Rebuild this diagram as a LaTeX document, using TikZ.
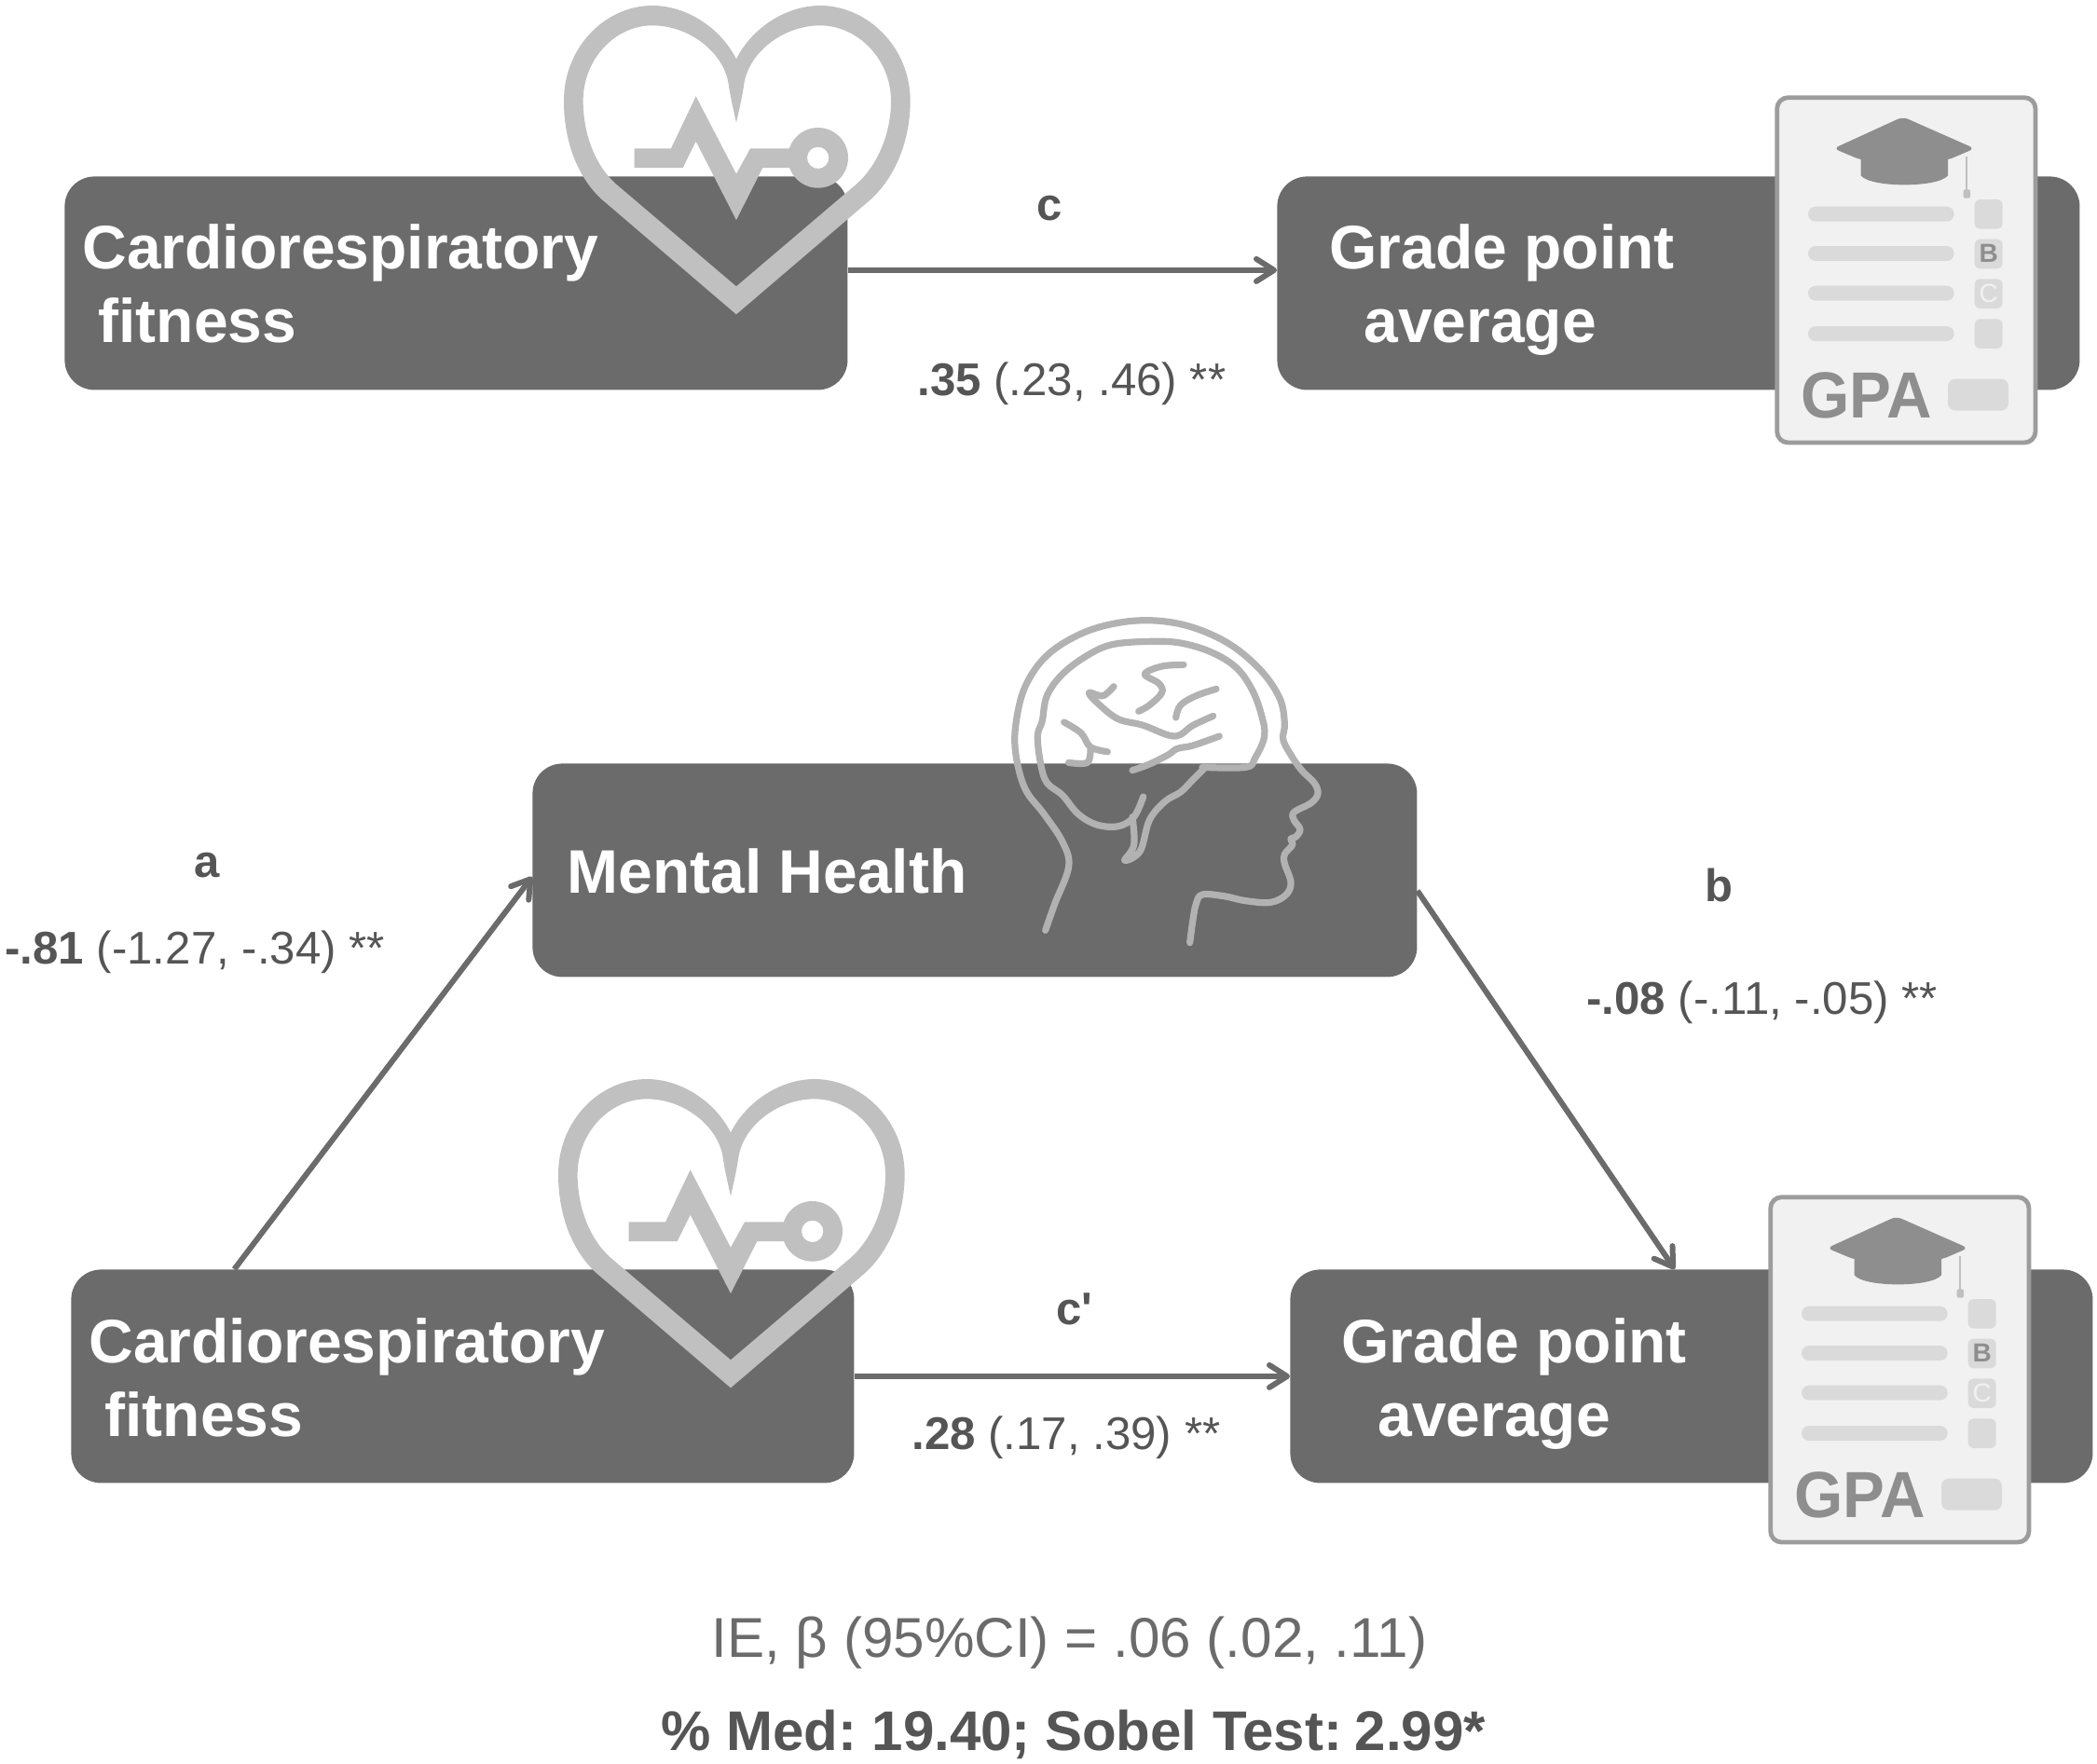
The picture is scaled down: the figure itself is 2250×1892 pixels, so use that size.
\documentclass[tikz,border=0pt]{standalone}
\usepackage{fontspec}
\setmainfont{Liberation Sans}
\newfontfamily\plainsans{Liberation Sans}
\usetikzlibrary{arrows.meta}
\definecolor{boxc}{HTML}{6B6B6B}
\definecolor{iconc}{HTML}{C0C0C0}
\definecolor{brainc}{HTML}{B2B2B2}
\definecolor{labc}{HTML}{555555}
\definecolor{capc}{HTML}{8E8E8E}
\definecolor{barc}{HTML}{DADADA}
\definecolor{cardc}{HTML}{F1F1F1}
\definecolor{edgec}{HTML}{9C9C9C}
\tikzset{
 boxnode/.style={fill=boxc,rounded corners=16pt,anchor=north west,inner sep=0pt,minimum height=114.5pt},
 boxtext/.style={anchor=base west,inner sep=0pt,text=white,font=\fontsize{33}{36}\selectfont\bfseries},
 letter/.style={anchor=base,inner sep=0pt,text=labc,font=\fontsize{24.5}{28}\selectfont\bfseries},
 coef/.style={anchor=base west,inner sep=0pt,text=labc,font=\fontsize{24.6}{28}\selectfont},
 conn/.style={draw=boxc,line width=3pt,-{Straight Barb[length=9.5pt,width=12pt,line width=3pt,round]}},
 brainline/.style={draw=brainc,line width=3.6pt,line cap=round,line join=round},
}
\newcommand{\heartbeat}[2]{%
\begin{scope}[shift={(#1,#2)},x=0.16667pt,y=-0.16667pt]
 \fill[iconc,even odd rule]
  (690,1012) -- (255,640) .. controls (170,560) and (135,440) .. (135,325)
  .. controls (135,150) and (270,18) .. (420,18)
  .. controls (530,18) and (640,90) .. (690,190)
  .. controls (740,90) and (850,18) .. (960,18)
  .. controls (1110,18) and (1250,150) .. (1250,325)
  .. controls (1250,440) and (1210,560) .. (1125,640) -- cycle
  (690,922) -- (300,590) .. controls (235,530) and (197,430) .. (197,325)
  .. controls (197,190) and (300,82) .. (420,82)
  .. controls (540,82) and (650,170) .. (665,270)
  .. controls (672,320) and (685,370) .. (690,395)
  .. controls (695,370) and (708,320) .. (715,270)
  .. controls (730,170) and (840,82) .. (960,82)
  .. controls (1080,82) and (1188,190) .. (1188,325)
  .. controls (1188,430) and (1145,530) .. (1080,590) -- cycle;
 \fill[iconc] (362,478) -- (480,478) -- (560,310) -- (690,560) -- (735,478) -- (880,478)
  -- (880,540) -- (775,540) -- (690,708) -- (560,455) -- (518,540) -- (362,540) -- cycle;
 \fill[iconc,even odd rule] (953,508) circle[radius=97] (953,508) circle[radius=35];
\end{scope}}
\newcommand{\gpacard}[2]{%
\begin{scope}[shift={(#1,#2)},x=0.16667pt,y=-0.16667pt]
 \draw[draw=edgec,fill=cardc,line width=2.4pt,rounded corners=6pt] (80,44) rectangle (912,1155);
 \fill[capc,rounded corners=3pt] (485,106) -- (716,208) -- (630,245) -- (350,245) -- (262,208) -- cycle;
 \fill[capc] (350,235) -- (630,235) -- (630,295) .. controls (600,335) and (380,335) .. (350,295) -- cycle;
 \draw[iconc,line width=1.4pt] (690,235) -- (690,345);
 \fill[iconc,rounded corners=1pt] (680,340) rectangle (702,368);
 \foreach \yy in {395,522,650,780} \fill[barc,rounded corners=4pt] (180,\yy) rectangle (650,\yy+48);
 \foreach \yy in {372,500,628,757} \fill[barc,rounded corners=3pt] (716,\yy) rectangle (806,\yy+95);
 \node[anchor=base,inner sep=0pt,text=capc,font=\fontsize{14}{16}\selectfont\bfseries] at (761,575) {B};
 \node[anchor=base,inner sep=0pt,text=cardc,font=\fontsize{14}{16}\selectfont] at (761,703) {C};
 \node[anchor=base west,inner sep=0pt,text=capc,font=\fontsize{35}{38}\selectfont\bfseries,xscale=.96] at (155,1075) {GPA};
 \fill[barc,rounded corners=4pt] (630,950) rectangle (825,1052);
\end{scope}}
\newcommand{\brainhead}[2]{%
\begin{scope}[shift={(#1,#2)},x=0.16667pt,y=-0.16667pt,brainline]
 \draw plot[smooth,tension=.6] coordinates {(185,1045)(215,960)(260,840)(240,760)(180,670)(120,590)(90,480)(90,380)(120,260)(190,160)(300,90)(420,55)(540,48)(660,70)(780,125)(880,210)(940,300)(955,380)(950,430)(975,480)(1010,530)(1050,570)(1062,605)(1040,635)(985,665)(985,690)(1005,720)(990,745)(975,750)(980,770)(955,800)(955,830)(975,890)(960,930)(910,955)(830,950)(760,935)(690,930)(670,960)(660,1010)(650,1085)};
 \draw plot[smooth,tension=.6] coordinates {(690,520)(830,520)(860,490)(890,420)(880,350)(850,270)(800,200)(720,150)(620,120)(520,115)(400,125)(320,160)(240,220)(190,290)(175,370)(160,420)(170,510)(190,570)(240,610)(290,670)(350,705)(420,710)(470,680)(500,615)};
 \draw plot[smooth,tension=.6] coordinates {(465,680)(470,770)(440,820)(490,790)(520,690)(570,630)(620,600)(660,560)(700,520)};
 \draw plot[smooth,tension=.6] coordinates {(405,260)(370,290)(325,280)(360,320)(420,365)(500,385)(600,420)(660,385)(725,355)};
 \draw plot[smooth,tension=.6] coordinates {(630,190)(560,195)(505,220)(550,250)(560,280)(520,320)(485,340)};
 \draw plot[smooth,tension=.6] coordinates {(605,360)(620,320)(670,290)(735,268)};
 \draw plot[smooth,tension=.6] coordinates {(245,375)(300,410)(330,455)(385,470)};
 \draw plot[smooth,tension=.6] coordinates {(330,460)(320,505)(260,505)};
 \draw plot[smooth,tension=.6] coordinates {(465,530)(520,510)(580,480)(610,460)(660,450)(745,420)};
\end{scope}}
\begin{document}
\begin{tikzpicture}[x=0.5pt,y=-0.5pt]
\useasboundingbox (0,0) rectangle (2250,1892);
% boxes
\node[boxnode,minimum width=420pt] (crfA) at (69,189) {};
\node[boxnode,minimum width=430.5pt] (gpaA) at (1370,189) {};
\node[boxnode,minimum width=474.5pt] (mh) at (571,819) {};
\node[boxnode,minimum width=420pt] (crfB) at (76,1362) {};
\node[boxnode,minimum width=430.5pt] (gpaB) at (1384,1362) {};
% connectors
\draw[conn] ([yshift=7pt]crfA.east) -- ([yshift=7pt]gpaA.west);
\draw[conn] ([xshift=-122.5pt]crfB.north) -- ([yshift=-3.5pt]mh.west);
\draw[conn] ([yshift=-11pt]mh.east) -- ([xshift=-9pt]gpaB.north);
\draw[conn] (crfB.east) -- (gpaB.west);
% box text
\node[boxtext] (t1) at (88,288) {Cardiorespiratory};
\node[boxtext] (t2) at (105,367) {fitness};
\node[boxtext] (t3) at (1426,288) {Grade point};
\node[boxtext] (t4) at (1463,367) {average};
\node[boxtext] (t5) at (608,958) {Mental Health};
\node[boxtext] (t6) at (95,1462) {Cardiorespiratory};
\node[boxtext] (t7) at (112,1541) {fitness};
\node[boxtext] (t8) at (1439,1462) {Grade point};
\node[boxtext] (t9) at (1478,1541) {average};
% labels
\node[letter] (lc) at (1126,236) {c};
\node[coef] (cc) at (984,424) {\textbf{.35} (.23, .46) **};
\node[letter] (la) at (222,941) {a};
\node[coef] (ca) at (5,1034) {\textbf{-.81} (-1.27, -.34) **};
\node[letter] (lb) at (1844,967) {b};
\node[coef] (cb) at (1702,1088) {\textbf{-.08} (-.11, -.05) **};
\node[letter] (lcp) at (1153,1421) {\plainsans\bfseries c'};
\node[coef] (ccp) at (978,1555) {\textbf{.28} (.17, .39) **};
\node[anchor=base west,inner sep=0pt,text=boxc,font=\fontsize{30.1}{34}\selectfont] (ie) at (763,1778) {IE, β (95\%CI) = .06 (.02, .11)};
\node[anchor=base west,inner sep=0pt,text=labc,font=\fontsize{30}{34}\selectfont\bfseries] (med) at (709,1878) {\% Med:\kern-2.9pt{} 19.40;\kern-.7pt{} Sobel Test:\kern-4.3pt{} 2.99*};
% icons
\heartbeat{560}{0}
\heartbeat{554}{1152}
\gpacard{1880}{90}
\gpacard{1873}{1270}
\brainhead{1060}{650}
\end{tikzpicture}
\end{document}
